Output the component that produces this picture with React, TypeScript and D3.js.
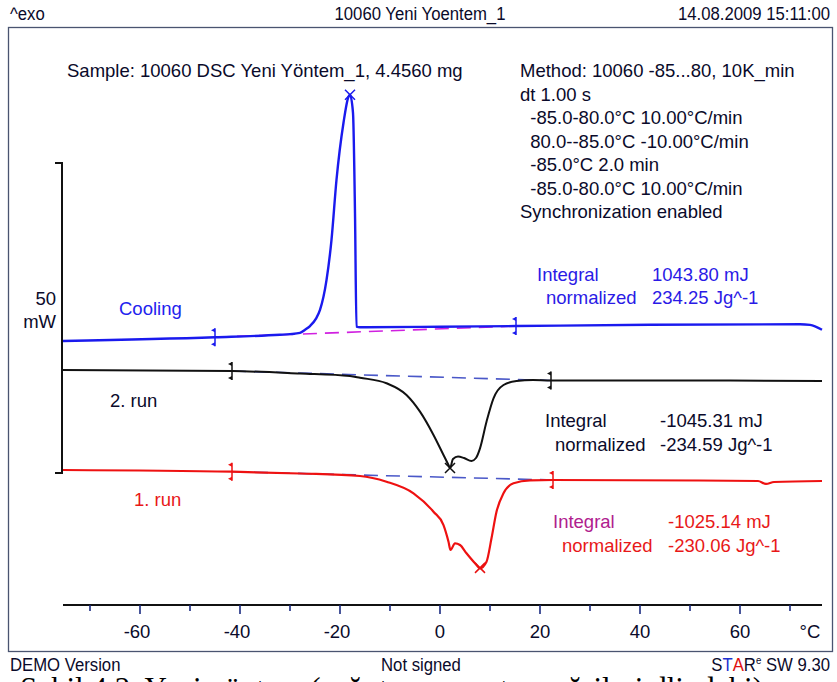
import React from 'react';
import * as d3 from 'd3';

// temperature (°C) and heat flow (mW)
const coolingT = [-75.4, -45.0, -32.0, -30.0, -28.0, -27.0, -26.0, -24.8, -24.0, -22.7, -21.7, -20.7, -19.3, -18.3, -18.0, -17.4, -17.0, -16.7, -16.0, 0, 15.2, 42, 72, 74, 76.4];
const coolingMW = [21.3, 21.9, 22.3, 22.4, 22.6, 23.1, 23.7, 24.9, 26.3, 31.1, 37.6, 47.3, 56.5, 60.7, 61.0, 58.1, 41.9, 23.6, 23.5, 23.6, 23.7, 23.9, 24.0, 23.9, 23.1];

const run2T = [-75.4, -41.6, -28, -18, -16, -10.7, -6.7, -4.0, -1.3, 0.7, 1.7, 2.0, 2.6, 3.6, 4.8, 6.3, 7.2, 8.0, 9.3, 10.7, 12.7, 15.3, 18.6, 22.2, 52, 76.4];
const run2MW = [16.61, 16.45, 16.05, 15.65, 15.37, 14.47, 12.58, 9.89, 6.13, 2.9, 1.29, 0.81, 2.26, 2.66, 2.42, 1.94, 2.42, 3.98, 8.27, 12.05, 14.19, 14.84, 15.0, 14.92, 14.92, 14.84];

const run1T = [-75.4, -41.6, -28, -16, -10.7, -5.3, -1.3, 0.7, 1.7, 2.1, 3.0, 4.0, 5.3, 7.0, 8.0, 9.3, 10.3, 11.3, 12.7, 14.7, 18, 22.6, 52, 63.6, 65.2, 66.8, 76.4];
const run1MW = [0.48, 0.21, -0.08, -0.48, -1.4, -3.27, -6.24, -8.39, -11.08, -12.42, -11.34, -11.61, -12.95, -14.56, -15.37, -14.31, -10.53, -6.24, -3.27, -1.66, -1.18, -1.13, -1.21, -1.29, -1.77, -1.45, -1.29];

// integration limits [T, mW] and peak markers
const coolingLimits = [[-45.0, 21.9], [15.2, 23.7]];
const run2Limits = [[-41.6, 16.45], [22.2, 14.92]];
const run1Limits = [[-41.6, 0.21], [22.6, -1.13]];
const peaks = [[-18.0, 61.0, '#1a1aee'], [2.0, 0.8, '#111'], [8.0, -15.3, '#e81010']];

const xTicks = [-60, -40, -20, 0, 20, 40, 60];
const xMinor = [-70, -50, -30, -10, 10, 30, 50, 70];

const methodLines = [
  'Method: 10060 -85...80, 10K_min',
  'dt 1.00 s',
  '  -85.0-80.0°C 10.00°C/min',
  '  80.0--85.0°C -10.00°C/min',
  '  -85.0°C 2.0 min',
  '  -85.0-80.0°C 10.00°C/min',
  'Synchronization enabled',
];

const font = 'Liberation Sans, Arial, sans-serif';
const ink = '#0a0a2a';

export default function App() {
  const x = d3.scaleLinear().domain([-75.4, 76.4]).range([63, 822]);
  const y = d3.scaleLinear().domain([0, 50]).range([473, 163]);
  const line = d3.line<number>().curve(d3.curveMonotoneX);

  const path = (ts: number[], vs: number[]) =>
    line(ts.map((t, i) => [x(t), y(vs[i])]) as any) as string;

  const limitMark = (t: number, v: number, color: string, key: string) => {
    const px = x(t), py = y(v);
    return (
      <g key={key} fill={color} stroke={color}>
        <line x1={px} x2={px} y1={py - 9} y2={py + 9} strokeWidth={1.5} />
        <path d={`M${px},${py - 9}L${px - 4},${py - 7}L${px},${py - 5}Z`} stroke="none" />
        <path d={`M${px},${py + 9}L${px - 4},${py + 7}L${px},${py + 5}Z`} stroke="none" />
      </g>
    );
  };

  const baseline = (lims: number[][], color: string) => (
    <line x1={x(lims[0][0])} y1={y(lims[0][1])} x2={x(lims[1][0])} y2={y(lims[1][1])}
      stroke={color} strokeWidth={1.6} strokeDasharray="14 8" />
  );

  return (
    <svg width={837} height={682} style={{ position: 'absolute', left: 0, top: 0, background: '#fff' }}
      fontFamily={font}>
      {/* header */}
      <g fontSize={19} fill={ink}>
        <text x={10} y={20} transform="translate(10,0) scale(0.88,1) translate(-10,0)">^exo</text>
        <text x={420} y={20} textAnchor="middle" transform="translate(420,0) scale(0.88,1) translate(-420,0)">10060 Yeni Yoentem_1</text>
        <text x={830} y={20} textAnchor="end" transform="translate(830,0) scale(0.88,1) translate(-830,0)">14.08.2009 15:11:00</text>
      </g>
      <rect x={8.5} y={27.5} width={824} height={624} fill="none" stroke="#4a5470" strokeWidth={1.3} />

      {/* texts */}
      <g fontSize={18.5} fill={ink}>
        <text x={67} y={77}>Sample: 10060 DSC Yeni Yöntem_1, 4.4560 mg</text>
        {methodLines.map((s, i) => (
          <text key={i} x={520} y={77 + i * 23.5} style={{ whiteSpace: 'pre' }}>{s}</text>
        ))}
      </g>

      {/* y bracket */}
      <path d={`M55,${y(50)}H62V${y(0)}H55`} fill="none" stroke="#111" strokeWidth={2} />
      <g fontSize={18.5} fill={ink} textAnchor="end">
        <text x={56} y={305}>50</text>
        <text x={56} y={328}>mW</text>
      </g>

      {/* integration baselines */}
      {baseline(coolingLimits, '#d020e0')}
      {baseline(run2Limits, '#4a58c8')}
      {baseline(run1Limits, '#4a58c8')}

      {/* curves */}
      <path d={path(coolingT, coolingMW)} fill="none" stroke="#1a1aee" strokeWidth={2.4} />
      <path d={path(run2T, run2MW)} fill="none" stroke="#111" strokeWidth={2} />
      <path d={path(run1T, run1MW)} fill="none" stroke="#ee1111" strokeWidth={2.2} />

      {coolingLimits.map((l, i) => limitMark(l[0], l[1], '#1a1aee', 'c' + i))}
      {run2Limits.map((l, i) => limitMark(l[0], l[1], '#111', 'b' + i))}
      {run1Limits.map((l, i) => limitMark(l[0], l[1], '#ee1111', 'r' + i))}

      {peaks.map((p, i) => {
        const px = x(p[0] as number), py = y(p[1] as number);
        return (
          <path key={i} d={`M${px - 5},${py - 5}L${px + 5},${py + 5}M${px - 5},${py + 5}L${px + 5},${py - 5}`}
            stroke={p[2] as string} strokeWidth={1.5} />
        );
      })}

      {/* curve labels */}
      <g fontSize={18.5}>
        <text x={119} y={315} fill="#2222ee">Cooling</text>
        <text x={537} y={281} fill="#2a1ae6">Integral</text>
        <text x={652} y={281} fill="#2a1ae6">1043.80 mJ</text>
        <text x={546} y={304} fill="#2a1ae6">normalized</text>
        <text x={652} y={304} fill="#2a1ae6">234.25 Jg^-1</text>

        <text x={110} y={407} fill={ink}>2. run</text>
        <text x={545} y={427} fill={ink}>Integral</text>
        <text x={660} y={427} fill={ink}>-1045.31 mJ</text>
        <text x={555} y={451} fill={ink}>normalized</text>
        <text x={660} y={451} fill={ink}>-234.59 Jg^-1</text>

        <text x={134} y={506} fill="#e81818">1. run</text>
        <text x={553} y={528} fill="#b0208e">Integral</text>
        <text x={668} y={528} fill="#e81818">-1025.14 mJ</text>
        <text x={562} y={552} fill="#e81818">normalized</text>
        <text x={668} y={552} fill="#e81818">-230.06 Jg^-1</text>
      </g>

      {/* x axis */}
      <line x1={63} x2={822} y1={605} y2={605} stroke="#111" strokeWidth={2.2} />
      {xTicks.map(t => (
        <line key={'M' + t} x1={x(t)} x2={x(t)} y1={605} y2={614} stroke="#1a2a80" strokeWidth={1.6} />
      ))}
      {xMinor.map(t => (
        <line key={'m' + t} x1={x(t)} x2={x(t)} y1={605} y2={611} stroke="#1a2a80" strokeWidth={1.6} />
      ))}
      <g fontSize={18.5} fill={ink} textAnchor="middle">
        {xTicks.map(t => (
          <text key={t} x={x(t) - (t < 0 ? 3 : 0)} y={638}>{t}</text>
        ))}
        <text x={810} y={638}>°C</text>
      </g>

      {/* footer */}
      <g fontSize={19} fill={ink}>
        <text x={10} y={671} transform="translate(10,0) scale(0.88,1) translate(-10,0)">DEMO Version</text>
        <text x={421} y={671} textAnchor="middle" transform="translate(421,0) scale(0.88,1) translate(-421,0)">Not signed</text>
        <text x={830} y={671} textAnchor="end" transform="translate(830,0) scale(0.88,1) translate(-830,0)">
          <tspan>S</tspan><tspan fill="#2030d0">T</tspan><tspan fill="#e01010">A</tspan><tspan>R</tspan>
          <tspan fontSize={11} dy={-7}>e</tspan><tspan dy={7}> SW 9.30</tspan>
        </text>
      </g>
      <text x={20} y={699} fontFamily="Liberation Serif, Times New Roman, serif" fontSize={31} fill="#000">
        Şekil 4.2. Yeni yöntem (soğutma ve ısıtma eğrileri dlindeki)
      </text>
    </svg>
  );
}
